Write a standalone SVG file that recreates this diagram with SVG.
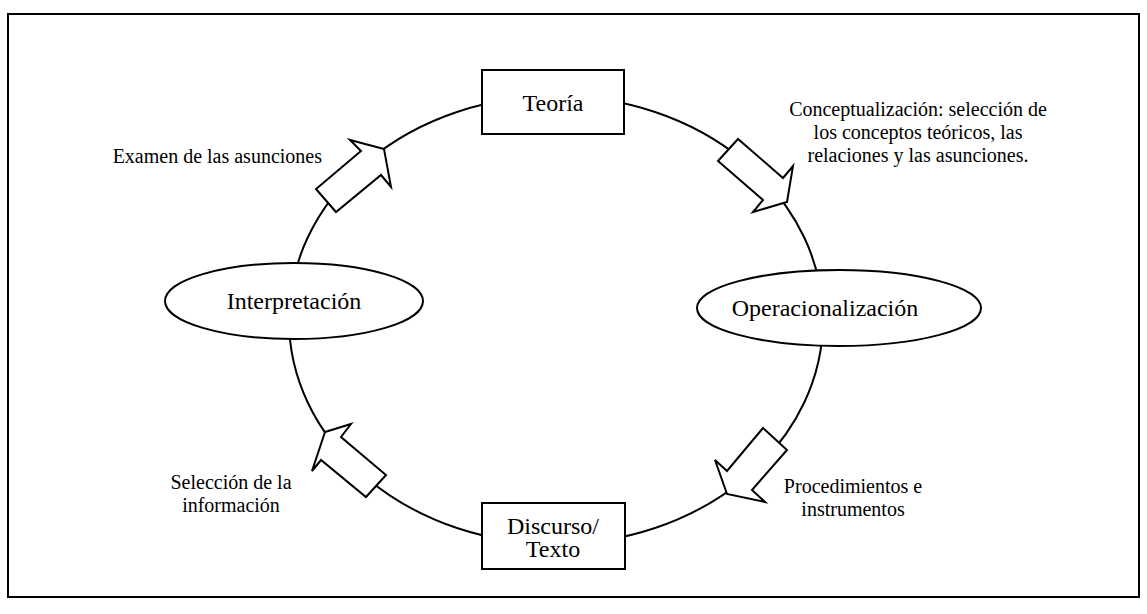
<svg xmlns="http://www.w3.org/2000/svg" width="1147" height="614" viewBox="0 0 1147 614">
<style>
.line{fill:none;stroke:#000;stroke-width:2}
.shape{fill:#fff;stroke:#000;stroke-width:2}
.arrow{fill:#fff;stroke:#000;stroke-width:2;stroke-linejoin:miter}
.t{font-family:"Liberation Serif","Times New Roman",serif;fill:#000}
.big{font-size:24px}
.lbl{font-size:20px}
</style>
<rect x="8" y="14" width="1131" height="583" class="line"/>
<g id="connectors">
<ellipse cx="556" cy="320" rx="267" ry="224" class="line"/>
<polygon class="arrow" points="384,149 350,140 361,151 316,189 336,212 381,175 391,187"/>
<polygon class="arrow" points="738,139 718,161 763,200 753,212 787,202 793,166 783,178"/>
<polygon class="arrow" points="763,428 787,450 752,490 765,502 727,494 715,460 727,471"/>
<polygon class="arrow" points="325,432 351,424 341,437 386,475 366,497 321,460 312,471"/>
</g>
<g id="teoria">
<rect x="482" y="70" width="142" height="64" class="shape"/>
<text x="553" y="111" text-anchor="middle" class="t big">Teoría</text>
</g>
<g id="discurso">
<rect x="482" y="503" width="143" height="66" class="shape"/>
<text x="553" y="534" text-anchor="middle" class="t big">Discurso/</text>
<text x="553" y="557" text-anchor="middle" class="t big">Texto</text>
</g>
<g id="interpretacion">
<ellipse cx="294" cy="301" rx="129" ry="38" class="shape"/>
<text x="294" y="309" text-anchor="middle" class="t big">Interpretación</text>
</g>
<g id="operacionalizacion">
<ellipse cx="839" cy="308" rx="142" ry="38" class="shape"/>
<text x="825" y="316" text-anchor="middle" class="t big">Operacionalización</text>
</g>
<g id="labels">
<text x="322" y="163" text-anchor="end" class="t lbl">Examen de las asunciones</text>
<text x="918" y="116" text-anchor="middle" class="t lbl">Conceptualización: selección de</text>
<text x="918" y="139" text-anchor="middle" class="t lbl">los conceptos teóricos, las</text>
<text x="918" y="162" text-anchor="middle" class="t lbl">relaciones y las asunciones.</text>
<text x="853" y="493" text-anchor="middle" class="t lbl">Procedimientos e</text>
<text x="853" y="516" text-anchor="middle" class="t lbl">instrumentos</text>
<text x="231" y="489" text-anchor="middle" class="t lbl">Selección de la</text>
<text x="231" y="512" text-anchor="middle" class="t lbl">información</text>
</g>
</svg>
